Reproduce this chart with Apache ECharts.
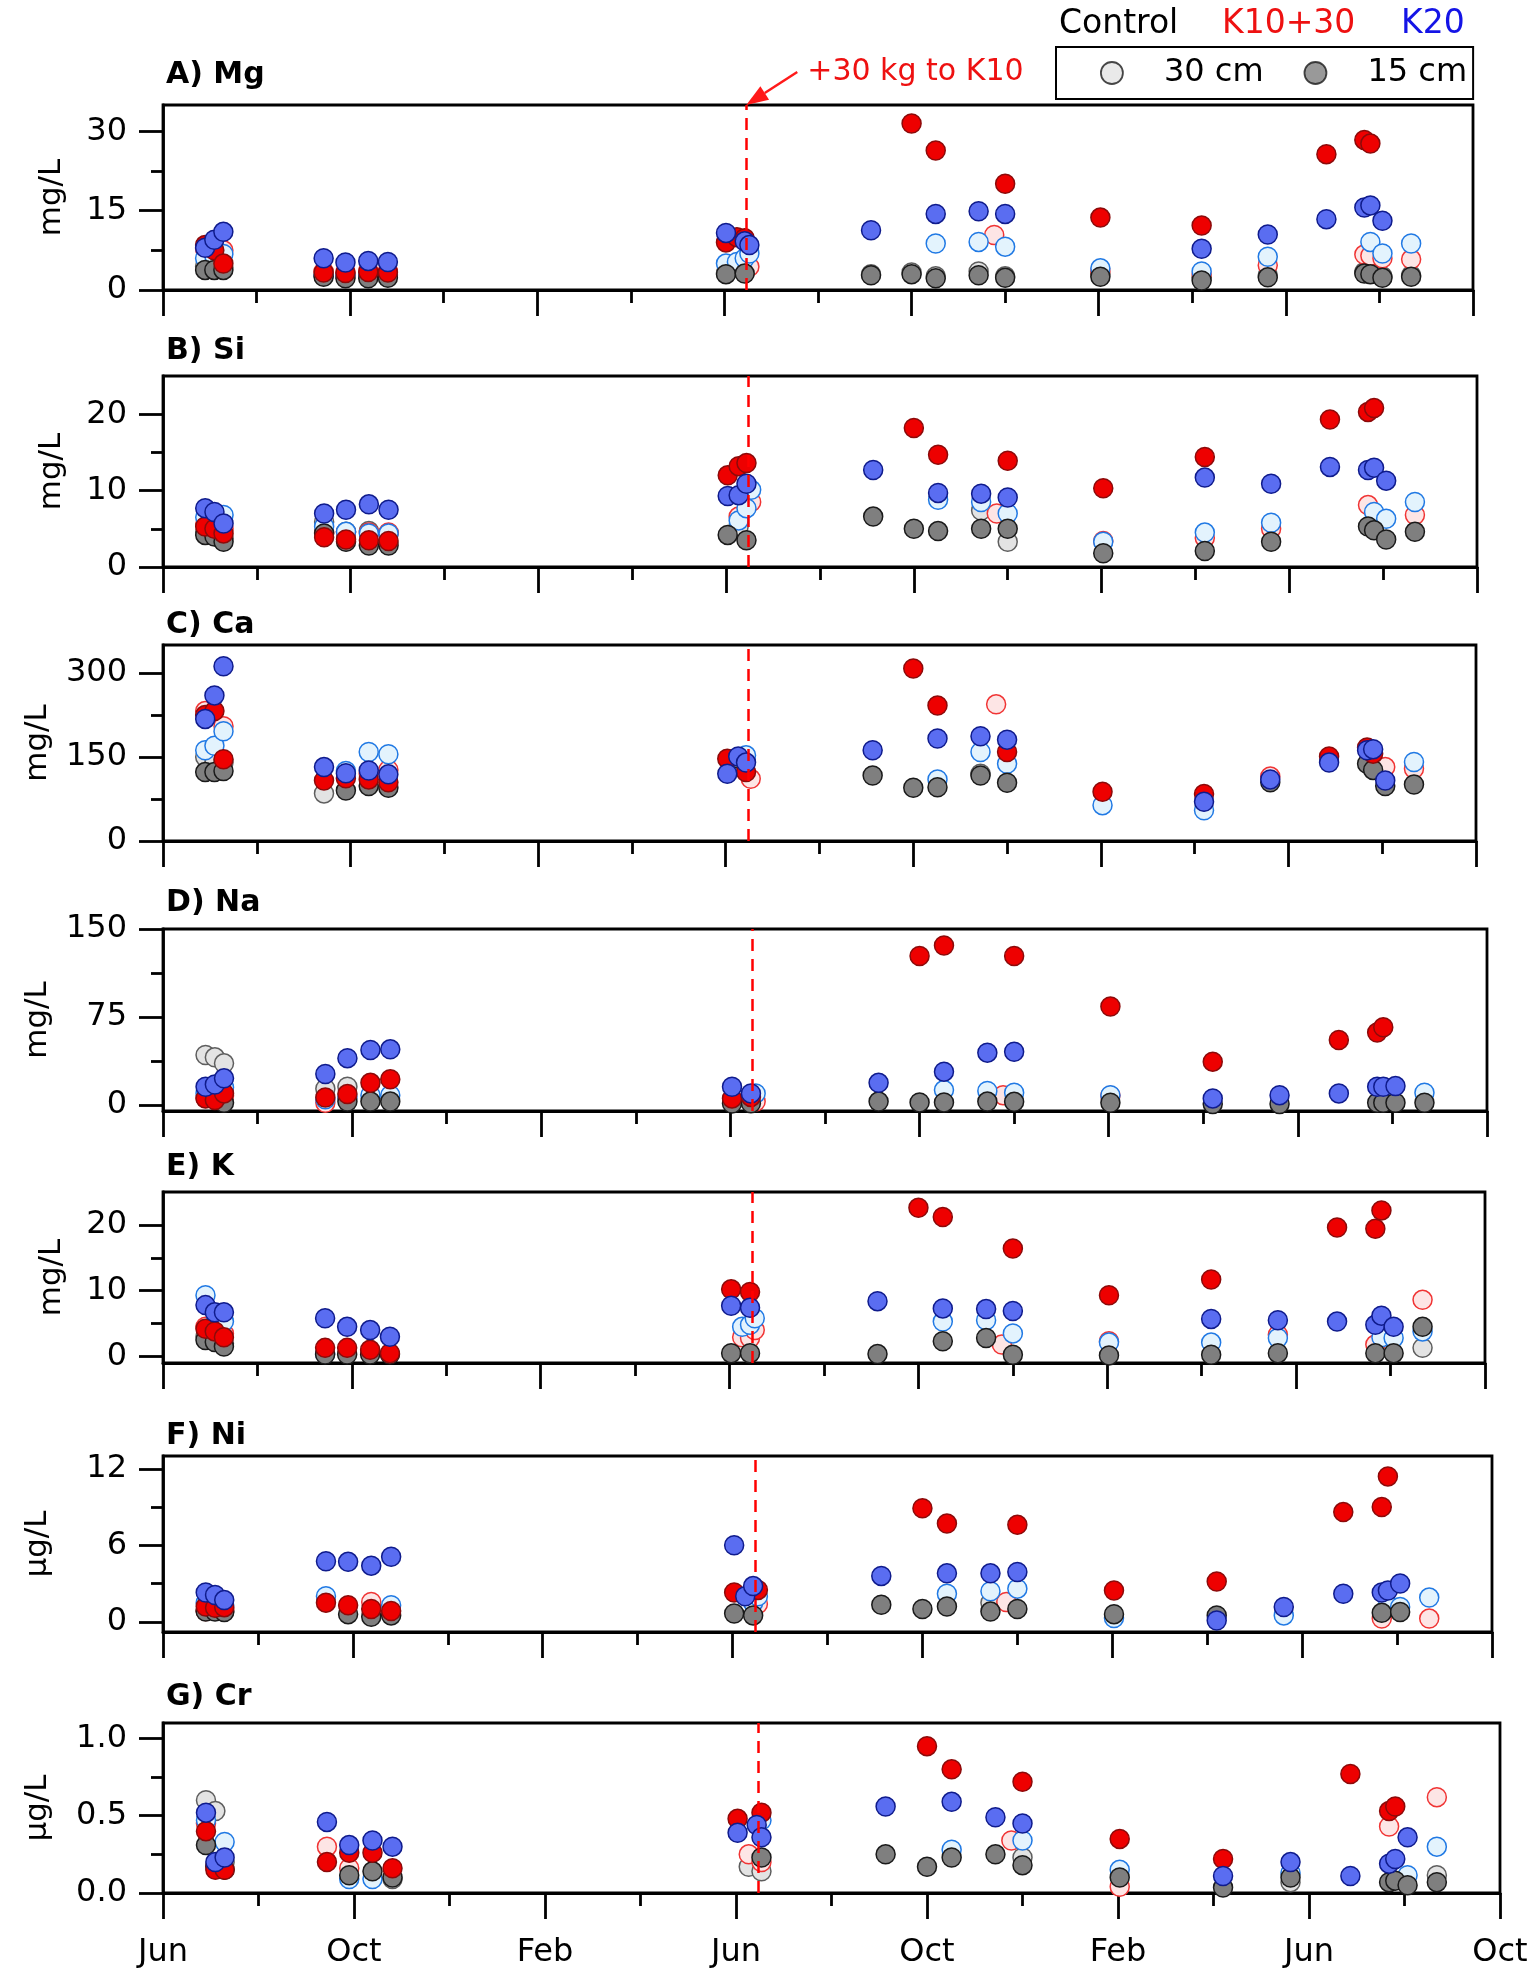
<!DOCTYPE html>
<html>
<head>
<meta charset="utf-8">
<title>Soil solution chemistry</title>
<script src="https://cdn.jsdelivr.net/npm/echarts@6/dist/echarts.min.js"></script>
<style>
  html, body { margin: 0; padding: 0; background: #fff; }
  #chart { width: 1535px; height: 1972px; }
</style>
</head>
<body>
<div id="chart"></div>
<script>
const _ = null;
const FONT = 'DejaVu Sans';

// sampling dates, x axis runs Jun 2016 .. Oct 2018
const sampleDates = [
  '2016-06-28', '2016-07-04', '2016-07-10',
  '2016-09-14', '2016-09-28', '2016-10-13', '2016-10-26',
  '2017-06-02', '2017-06-09', '2017-06-14', '2017-06-17',
  '2017-09-05', '2017-10-01', '2017-10-17', '2017-11-14', '2017-11-24', '2017-12-01',
  '2018-02-02', '2018-04-07', '2018-05-20', '2018-06-27', '2018-07-22', '2018-07-26',
  '2018-08-03', '2018-08-22'
];
const addDate = '2017-06-15'; // +30 kg to K10
const monthLabels = ['Jun', 'Oct', 'Feb'];

// C = Control, R = K10+30, B = K20 ; 30 = 30 cm, 15 = 15 cm
const mgC30 = [4.5, 4.3, 4.3, 2.8, 2.7, 2.8, 2.8, 3.2, _, 3.4, _, 3.0, 3.3, 2.6, 3.5, _, 2.6, 3.0, 2.4, 2.8, _, 3.4, 3.3, 2.6, 2.8];
const mgC15 = [3.8, 3.8, 3.8, 2.5, 2.2, 2.2, 2.3, 3.0, _, 3.1, _, 2.8, 3.0, 2.2, 2.8, _, 2.3, 2.5, 1.8, 2.4, _, 3.1, 3.0, 2.3, 2.5];
const mgR30 = [7.8, 7.0, 7.5, 3.5, 3.4, 3.6, 3.5, _, _, _, 4.4, _, _, _, _, 10.4, _, 3.5, 3.0, 4.7, _, 6.7, 6.5, 6.0, 5.8];
const mgR15 = [8.5, 7.5, 5.0, 3.3, 3.2, 3.4, 3.3, 9.0, 10.0, 9.8, _, _, 31.5, 26.4, _, _, 20.1, 13.7, 12.2, _, 25.7, 28.4, 27.7, _, _];
const mgB30 = [6.0, 6.5, 6.8, 2.8, 2.8, 3.0, 3.0, 5.0, 5.3, 6.0, 6.9, _, _, 8.8, 9.1, _, 8.2, 4.1, 3.5, 6.3, _, _, 9.1, 6.9, 8.8];
const mgB15 = [8.0, 9.5, 11.0, 6.0, 5.2, 5.5, 5.3, 10.8, _, 9.2, 8.5, 11.3, _, 14.4, 14.9, _, 14.4, _, 7.8, 10.5, 13.4, 15.6, 16.0, 13.1, _];

const siC30 = [4.5, 4.4, 3.8, 5.9, 4.6, 4.7, 4.4, _, 5.3, _, _, _, _, _, 7.4, _, 3.3, _, _, _, _, _, _, _, _];
const siC15 = [4.2, 4.0, 3.3, 4.4, 3.3, 2.8, 2.8, 4.2, _, 3.5, _, 6.6, 5.0, 4.7, 5.0, _, 5.0, 1.8, 2.1, 3.3, _, 5.3, 4.8, 3.6, 4.6];
const siR30 = [5.5, 5.3, 5.0, 4.5, 4.5, 4.5, 4.5, _, 6.6, _, 8.5, _, _, _, _, 7.0, _, 3.4, 3.8, 5.0, _, 8.1, _, _, 6.8];
const siR15 = [5.3, 5.0, 4.4, 3.9, 3.6, 3.5, 3.4, 12.0, 13.2, 13.6, _, _, 18.2, 14.7, _, _, 13.9, 10.3, 14.4, _, 19.3, 20.3, 20.8, _, _];
const siB30 = [6.5, 6.0, 6.8, 5.3, 4.6, 4.4, 4.4, _, 6.1, 7.7, 10.1, _, _, 8.8, 8.5, _, 7.0, 3.3, 4.5, 5.8, _, _, 7.2, 6.3, 8.5];
const siB15 = [7.7, 7.2, 5.7, 7.0, 7.5, 8.2, 7.5, 9.3, 9.4, 10.9, _, 12.7, _, 9.7, 9.6, _, 9.1, _, 11.7, 10.9, 13.1, 12.7, 13.0, 11.3, _];

const caC30 = [150, 140, 140, 85, _, _, _, _, _, _, _, _, _, _, 120, _, _, _, _, _, _, _, _, _, _];
const caC15 = [123, 123, 125, _, 90, 98, 95, _, 147, _, _, 117, 95, 96, 117, _, 104, _, _, 105, _, 138, 127, 98, 101];
const caR30 = [232, _, 205, _, _, 120, 127, _, _, _, 111, _, _, _, _, 244, _, _, _, 115, _, _, _, 132, 129];
const caR15 = [225, 232, 146, 108, 112, 110, 105, 147, _, 123, _, _, 308, 242, _, _, 159, 88, 84, _, 151, 167, 156, _, _];
const caB30 = [162, 170, 196, _, 125, 159, 155, _, _, 153, _, _, _, 110, 159, _, 138, 64, 55, _, _, _, _, _, 141];
const caB15 = [218, 260, 312, 132, 121, 126, 119, 120, 151, 140, _, 162, _, 183, 187, _, 181, _, 70, 110, 140, 162, 164, 108, _];

const naC30 = [42.7, 40.7, 35.6, 14, 15.6, _, _, _, _, _, _, _, _, _, _, _, _, _, _, _, _, _, _, _, _];
const naC15 = [_, _, 2, _, 3, 3, 3, 1.4, _, 1.5, _, 3, 2.3, 2.3, 3, _, 2.8, 2, 1, 1, _, 2, 2, 2, 2];
const naR30 = [6, 5, 8, 2, _, _, _, _, _, _, 3, _, _, _, _, 8.5, _, 8, _, _, _, _, _, _, _];
const naR15 = [5.7, 4.3, 10, 6.5, 9.4, 19, 22, 5.7, _, 7, _, _, 127, 136, _, _, 127, 84, 37, _, 55.5, 61.8, 66.3, _, _];
const naB30 = [10, 12, 15, 5, 7, 8.5, 8.5, _, _, _, 10, _, _, 12.8, 12, _, 10.5, 8.5, _, _, _, _, _, _, 10.5];
const naB15 = [15.7, 17.6, 22.8, 26.5, 40, 47, 47.5, 15.7, _, 10, _, 19, _, 28.5, 44.7, _, 45.5, _, 5.7, 8.5, 10, 15.7, 15.7, 16.2, _];

const kC30 = [3, 3, 2, _, _, _, _, _, _, _, _, _, _, _, _, _, _, _, _, _, _, _, _, _, 1.3];
const kC15 = [2.5, 2.2, 1.5, 0.3, 0.3, 0.3, 0.3, 0.5, _, 0.5, _, 0.35, _, 2.3, 2.8, _, 0.25, 0.15, 0.25, 0.5, _, 0.5, _, 0.5, 4.5];
const kR30 = [4.5, 4.0, 3.5, _, _, _, _, _, 2.9, 2.8, 4.0, _, _, _, _, 1.8, _, 2.3, _, 3.3, _, 1.8, _, _, 8.6];
const kR15 = [4.2, 3.8, 2.9, 1.3, 1.3, 1.0, 0.5, 10.2, _, 9.8, _, _, 22.6, 21.2, _, _, 16.4, 9.3, 11.7, _, 19.6, 19.4, 22.2, _, _];
const kB30 = [9.3, 5.0, 5.3, 0.4, _, _, _, _, 4.5, 4.8, 5.8, _, _, 5.3, 5.5, _, 3.5, 2.1, 2.1, 2.8, _, _, 2.9, 2.8, 3.8];
const kB15 = [7.8, 6.7, 6.7, 5.8, 4.5, 4.0, 3.0, 7.7, _, 7.4, _, 8.4, _, 7.3, 7.2, _, 6.9, _, 5.7, 5.5, 5.3, 4.8, 6.2, 4.5, _];

const niC30 = [0.9, 0.9, 0.85, _, _, _, _, _, _, _, _, _, _, _, 1.5, _, _, _, _, _, _, _, _, _, _];
const niC15 = [0.8, 0.8, 0.77, _, 0.6, 0.4, 0.5, 0.65, _, 0.5, _, 1.34, 1.0, 1.2, 0.8, _, 1.0, 0.6, 0.5, _, _, 0.7, _, 0.77, _];
const niR30 = [0.85, 0.9, 1.0, _, _, 1.55, _, _, _, _, 1.4, _, _, _, _, 1.55, _, _, _, _, _, 0.25, _, _, 0.25];
const niR15 = [1.2, 1.1, 1.15, 1.5, 1.3, 1.0, 0.85, 2.3, _, _, 2.5, _, 8.9, 7.7, _, _, 7.6, 2.45, 3.16, _, 8.6, 9.0, 11.4, _, _];
const niB30 = [1.5, 1.4, 1.3, 2.0, _, _, 1.3, _, _, 1.5, 2.0, _, _, 2.2, 2.4, _, 2.6, 0.3, _, 0.5, _, _, 1.3, 1.16, 1.9];
const niB15 = [2.3, 2.1, 1.7, 4.75, 4.7, 4.4, 5.1, 6.0, 2.0, 2.8, _, 3.6, _, 3.8, 3.8, _, 3.9, _, 0.1, 1.16, 2.2, 2.3, 2.45, 3.0, _];

const crC30 = [0.6, 0.53, 0.2, _, _, _, 0.09, _, 0.17, _, 0.14, _, _, _, _, _, 0.23, _, _, 0.07, _, _, _, _, 0.115];
const crC15 = [0.31, 0.17, 0.15, _, 0.115, 0.14, 0.1, _, _, _, 0.23, 0.25, 0.17, 0.23, 0.25, _, 0.18, 0.1, 0.035, 0.1, _, 0.07, 0.08, 0.05, 0.07];
const crR30 = [0.45, 0.18, _, 0.3, 0.16, _, _, _, 0.25, _, 0.2, _, _, _, _, 0.34, _, 0.04, _, _, _, 0.43, _, _, 0.62];
const crR15 = [0.4, 0.15, 0.15, 0.2, 0.26, 0.26, 0.16, 0.48, _, _, 0.52, _, 0.95, 0.8, _, _, 0.72, 0.35, 0.22, _, 0.77, 0.53, 0.56, _, _];
const crB30 = [0.47, _, 0.33, _, 0.09, 0.09, _, _, _, _, 0.47, _, _, 0.28, _, _, 0.34, 0.15, _, 0.13, _, _, _, 0.115, 0.3];
const crB15 = [0.52, 0.2, 0.23, 0.46, 0.31, 0.34, 0.3, 0.39, _, 0.44, 0.36, 0.56, _, 0.59, 0.49, _, 0.45, _, 0.11, 0.2, 0.11, 0.19, 0.22, 0.36, _];

// y tick labels (major) and minor tick positions
const mgTicks = [0, 15, 30], mgMinor = [7.5, 22.5];
const siTicks = [0, 10, 20], siMinor = [5, 15];
const caTicks = [0, 150, 300], caMinor = [75, 225];
const naTicks = [0, 75, 150], naMinor = [37.5, 112.5];
const kTicks = [0, 10, 20], kMinor = [5, 15];
const niTicks = [0, 6, 12], niMinor = [3, 9];
const crTicks = [0, 0.5, 1.0], crMinor = [0.25, 0.75];

const seriesNames = ['Control 30 cm', 'K10+30 30 cm', 'K20 30 cm', 'Control 15 cm', 'K10+30 15 cm', 'K20 15 cm'];
const seriesStyle = [
  { color: '#e3e3e3', borderColor: '#5e5e5e' },
  { color: '#fde5e5', borderColor: '#f03434' },
  { color: '#e3f3fd', borderColor: '#2079e4' },
  { color: '#7f7f7f', borderColor: '#1a1a1a' },
  { color: '#ee0000', borderColor: '#8c0a0a' },
  { color: '#5a6df1', borderColor: '#0f1b8c' }
];

const panels = [
  { title: 'A) Mg', unit: 'mg/L', ticks: mgTicks, minor: mgMinor, values: [mgC30, mgR30, mgB30, mgC15, mgR15, mgB15] },
  { title: 'B) Si', unit: 'mg/L', ticks: siTicks, minor: siMinor, values: [siC30, siR30, siB30, siC15, siR15, siB15] },
  { title: 'C) Ca', unit: 'mg/L', ticks: caTicks, minor: caMinor, values: [caC30, caR30, caB30, caC15, caR15, caB15] },
  { title: 'D) Na', unit: 'mg/L', ticks: naTicks, minor: naMinor, values: [naC30, naR30, naB30, naC15, naR15, naB15] },
  { title: 'E) K', unit: 'mg/L', ticks: kTicks, minor: kMinor, values: [kC30, kR30, kB30, kC15, kR15, kB15] },
  { title: 'F) Ni', unit: 'µg/L', ticks: niTicks, minor: niMinor, values: [niC30, niR30, niB30, niC15, niR15, niB15] },
  { title: 'G) Cr', unit: 'µg/L', ticks: crTicks, minor: crMinor, values: [crC30, crR30, crB30, crC15, crR15, crB15] }
];

// frame placement and axis ranges per panel
const layout = [
  { top: 105, height: 185, right: 62, titleTop: 60, min: 0, max: 35, nameGap: 96 },
  { top: 376, height: 191, right: 58, titleTop: 336, min: 0, max: 25, nameGap: 96 },
  { top: 645, height: 196, right: 59, titleTop: 610, min: 0, max: 350, nameGap: 110 },
  { top: 929, height: 182, right: 48, titleTop: 888, min: -5, max: 150, nameGap: 110 },
  { top: 1192, height: 171, right: 50, titleTop: 1152, min: -1, max: 25, nameGap: 96 },
  { top: 1456, height: 176, right: 43, titleTop: 1421, min: -0.8, max: 13, nameGap: 110 },
  { top: 1723, height: 170, right: 35, titleTop: 1682, min: 0, max: 1.1, nameGap: 110 }
];

function toMonths(s) {
  const [y, m, d] = s.split('-').map(Number);
  const days = new Date(y, m, 0).getDate();
  return (y - 2016) * 12 + (m - 6) + (d - 1) / days;
}
const xMonths = sampleDates.map(toMonths);
const addMonth = toMonths(addDate);

const axisColor = '#000';
const lw = 2.8;

const grid = [], xAxis = [], yAxis = [], title = [], series = [];

panels.forEach((p, i) => {
  const L = layout[i];
  grid.push({
    left: 163, right: L.right, top: L.top, height: L.height,
    show: true, borderColor: axisColor, borderWidth: lw
  });
  title.push({
    text: p.title, left: 166, top: L.titleTop, padding: 0,
    textStyle: { fontFamily: FONT, fontSize: 30, fontWeight: 'bold', color: '#000' }
  });
  xAxis.push({
    gridIndex: i, type: 'value', min: 0, max: 28, interval: 4,
    axisLine: { onZero: false, lineStyle: { color: axisColor, width: lw } },
    axisTick: { length: 26, lineStyle: { color: axisColor, width: lw } },
    minorTick: { show: true, splitNumber: 2, length: 13, lineStyle: { color: axisColor, width: lw } },
    splitLine: { show: false },
    axisLabel: {
      show: i === panels.length - 1, margin: 44, color: '#000',
      fontFamily: FONT, fontSize: 32,
      formatter: v => monthLabels[Math.round(v / 4) % 3]
    }
  });
  // major ticks + labels
  yAxis.push({
    gridIndex: i, type: 'value', min: L.min, max: L.max,
    name: p.unit, nameLocation: 'middle', nameGap: L.nameGap, nameRotate: 90,
    nameTextStyle: { fontFamily: FONT, fontSize: 31, color: '#000' },
    axisLine: { show: true, onZero: false, lineStyle: { color: axisColor, width: lw } },
    axisTick: { show: true, length: 24, customValues: p.ticks, lineStyle: { color: axisColor, width: lw } },
    axisLabel: {
      customValues: p.ticks, margin: 36, color: '#000', fontFamily: FONT, fontSize: 32,
      formatter: v => (i === 6 ? v.toFixed(1) : String(v))
    },
    splitLine: { show: false }
  });
  // minor ticks
  yAxis.push({
    gridIndex: i, type: 'value', min: L.min, max: L.max, position: 'left',
    axisLine: { show: false },
    axisTick: { show: true, length: 12, customValues: p.minor, lineStyle: { color: axisColor, width: lw } },
    axisLabel: { show: false },
    splitLine: { show: false }
  });

  p.values.forEach((vals, k) => {
    const s = {
      name: seriesNames[k], type: 'scatter', xAxisIndex: i, yAxisIndex: 2 * i,
      symbol: 'circle', symbolSize: 19,
      itemStyle: { color: seriesStyle[k].color, borderColor: seriesStyle[k].borderColor, borderWidth: 1.5, opacity: 1 },
      data: xMonths.map((m, j) => (vals[j] == null ? null : [m, vals[j]])).filter(d => d)
    };
    if (k === 0) {
      s.markLine = {
        silent: true, symbol: ['none', 'none'], label: { show: false },
        lineStyle: { color: '#ff0000', type: [12, 8], width: 2.5 },
        data: [{ xAxis: addMonth }]
      };
    }
    series.push(s);
  });
});

// legend-only series for the depth symbols
series.push({ name: '30 cm', type: 'scatter', xAxisIndex: 0, yAxisIndex: 0, data: [],
  itemStyle: { color: '#e3e3e3', borderColor: '#1a1a1a', borderWidth: 1.8 } });
series.push({ name: '15 cm', type: 'scatter', xAxisIndex: 0, yAxisIndex: 0, data: [],
  itemStyle: { color: '#7f7f7f', borderColor: '#1a1a1a', borderWidth: 1.8 } });

const chart = echarts.init(document.getElementById('chart'), null, { renderer: 'canvas' });
chart.setOption({
  animation: false,
  backgroundColor: '#fff',
  title,
  grid, xAxis, yAxis, series,
  legend: {
    left: 1056, top: 47, orient: 'horizontal',
    padding: [10, 6, 10, 44], itemWidth: 22, itemHeight: 22, itemGap: 40,
    borderColor: '#000', borderWidth: 2,
    selectedMode: false,
    textStyle: { fontFamily: FONT, fontSize: 32, color: '#000', padding: [0, 0, 0, 36] },
    data: [
      { name: '30 cm', icon: 'circle', itemStyle: { color: '#e3e3e3', borderColor: '#1a1a1a', borderWidth: 1.8 } },
      { name: '15 cm', icon: 'circle', itemStyle: { color: '#7f7f7f', borderColor: '#1a1a1a', borderWidth: 1.8 } }
    ]
  }
});

// header and annotation arrow, placed from the axes
const tip = chart.convertToPixel({ xAxisIndex: 0, yAxisIndex: 0 }, [addMonth, layout[0].max]);
const tail = [tip[0] + 51, tip[1] - 33];
const len = Math.hypot(tip[0] - tail[0], tip[1] - tail[1]);
const ux = (tip[0] - tail[0]) / len, uy = (tip[1] - tail[1]) / len;
const headL = 22, headW = 8;
const base = [tip[0] - ux * headL, tip[1] - uy * headL];

chart.setOption({
  graphic: [
    { type: 'text', left: 1059, top: 8, style: { text: 'Control', fill: '#000', fontFamily: FONT, fontSize: 33 } },
    { type: 'text', left: 1222, top: 8, style: { text: 'K10+30', fill: '#ee1111', fontFamily: FONT, fontSize: 33 } },
    { type: 'text', left: 1401, top: 8, style: { text: 'K20', fill: '#1414e6', fontFamily: FONT, fontSize: 33 } },
    {
      type: 'line', shape: { x1: tail[0], y1: tail[1], x2: base[0], y2: base[1] },
      style: { stroke: '#ff1a1a', lineWidth: 2.5 }
    },
    {
      type: 'polygon',
      shape: { points: [
        tip,
        [base[0] - uy * headW, base[1] + ux * headW],
        [base[0] + uy * headW, base[1] - ux * headW]
      ] },
      style: { fill: '#ff1a1a' }
    },
    {
      type: 'text', x: tail[0] + 10, y: tail[1],
      style: { text: '+30 kg to K10', fill: '#ee1111', fontFamily: FONT, fontSize: 30, verticalAlign: 'middle' }
    }
  ]
});
</script>
</body>
</html>
